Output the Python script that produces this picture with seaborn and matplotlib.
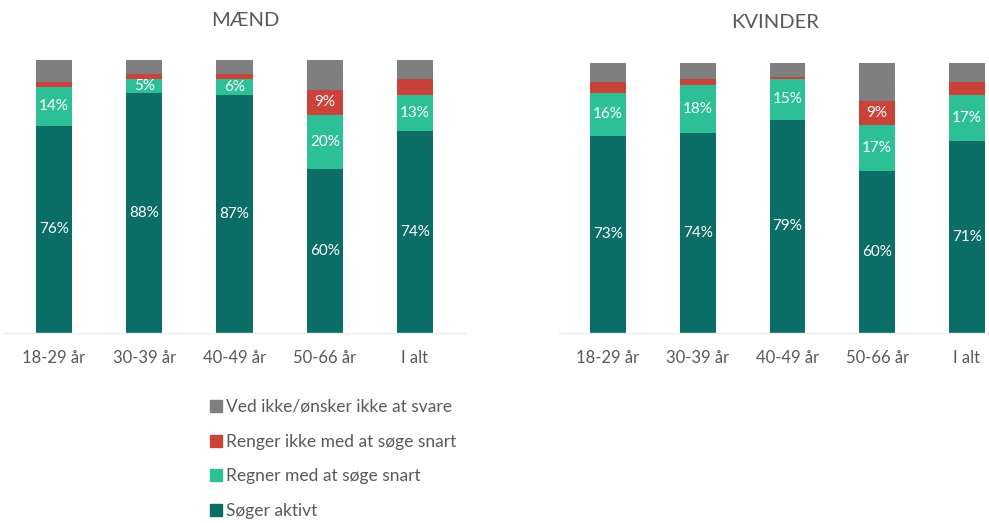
import matplotlib
matplotlib.use("Agg")
import matplotlib.pyplot as plt
from matplotlib.lines import Line2D
import numpy as np
import pandas as pd
import seaborn as sns

categories = ["18-29 år", "30-39 år", "40-49 år", "50-66 år", "I alt"]
series_names = ["Søger aktivt", "Regner med at søge snart",
                "Renger ikke med at søge snart", "Ved ikke/ønsker ikke at svare"]

maend_aktiv = [76, 88, 87, 60, 74]
maend_regner = [14, 5, 6, 20, 13]
maend_renger_ikke = [2, 2, 2, 9, 6]
maend_ved_ikke = [8, 5, 5, 11, 7]

kvinder_aktiv = [73, 74, 79, 60, 71]
kvinder_regner = [16, 18, 15, 17, 17]
kvinder_renger_ikke = [4, 2, 1, 9, 5]
kvinder_ved_ikke = [7, 6, 5, 14, 7]

panel_titles = ["MÆND", "KVINDER"]
colors = ["#0b6e66", "#2dbf95", "#c9433a", "#7f7f7f"]

sns.set_theme(style="white")
plt.rcParams["font.family"] = ["Lato", "DejaVu Sans"]

W, H = 989, 523
fig = plt.figure(figsize=(W / 100, H / 100), dpi=100)

ax_l = fig.add_axes([4.4 / W, (H - 333) / H, 460.2 / W, 273 / H])
ax_r = fig.add_axes([558.6 / W, (H - 333) / H, 430.8 / W, 270 / H])


def draw_panel(ax, aktiv, regner, renger, ved, xlim, label_red):
    df = pd.DataFrame({
        "cat": categories,
        "aktiv": aktiv,
        "regner": regner,
        "renger": renger,
        "ved": ved,
    })
    layers = ["aktiv", "regner", "renger", "ved"]
    cums = df[layers].cumsum(axis=1)
    for i in reversed(range(4)):
        sns.barplot(data=pd.DataFrame({"cat": categories, "v": cums[layers[i]]}),
                    x="cat", y="v", color=colors[i], width=0.4,
                    saturation=1, ax=ax, order=categories, linewidth=0)
    for j in range(len(categories)):
        a = aktiv[j]
        r = regner[j]
        ax.text(j, a / 2, f"{a}%", ha="center", va="center", color="white",
                fontsize=11)
        ax.text(j, a + r / 2, f"{r}%", ha="center", va="center", color="white",
                fontsize=11)
        if label_red[j]:
            ax.text(j, a + r + renger[j] / 2, f"{renger[j]}%", ha="center",
                    va="center", color="white", fontsize=11)
    ax.set_xlim(*xlim)
    ax.set_ylim(0, 100)
    ax.set_xlabel("")
    ax.set_ylabel("")
    ax.set_yticks([])
    for s in ["top", "right", "left"]:
        ax.spines[s].set_visible(False)
    ax.spines["bottom"].set_color("#ececec")
    ax.spines["bottom"].set_linewidth(1)
    ax.tick_params(axis="x", length=0, pad=12, labelsize=12, labelcolor="#595959")


draw_panel(ax_l, maend_aktiv, maend_regner, maend_renger_ikke, maend_ved_ikke,
           (-0.55, 4.55), [False, False, False, True, False])
draw_panel(ax_r, kvinder_aktiv, kvinder_regner, kvinder_renger_ikke, kvinder_ved_ikke,
           (-0.55, 4.25), [False, False, False, True, False])

fig.text(245 / W, 1 - 21 / H, panel_titles[0], ha="center", va="center",
         fontsize=14.5, color="#595959")
fig.text(775 / W, 1 - 23 / H, panel_titles[1], ha="center", va="center",
         fontsize=14.5, color="#595959")

handles = [Line2D([0], [0], marker="s", linestyle="none", markersize=8,
                  markerfacecolor=colors[i], markeredgecolor=colors[i])
           for i in [3, 2, 1, 0]]
labels = [series_names[i] for i in [3, 2, 1, 0]]
fig.legend(handles, labels, loc="upper left", bbox_to_anchor=(200 / W, 1 - 392 / H),
           frameon=False, fontsize=12.5, labelcolor="#595959", handletextpad=0.1,
           labelspacing=1.08, handlelength=1.0, borderaxespad=0)

fig.savefig("out.png", dpi=100)
